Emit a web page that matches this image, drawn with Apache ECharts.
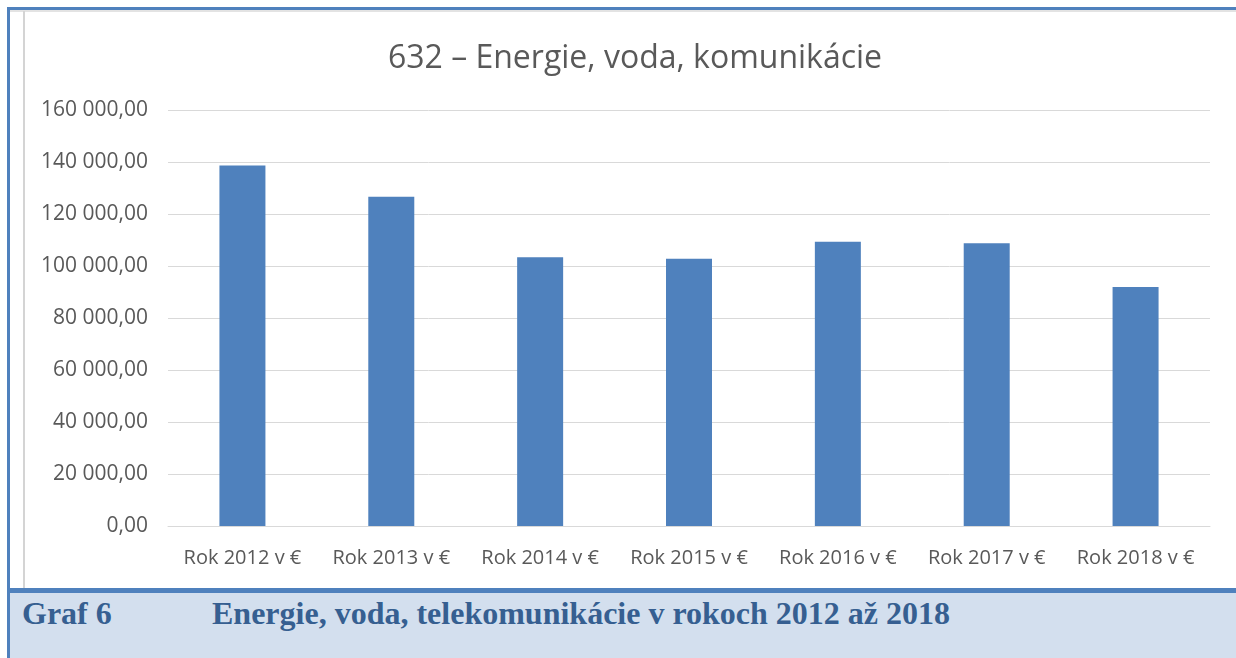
<!DOCTYPE html>
<html>
<head>
<meta charset="utf-8">
<script src="https://cdn.jsdelivr.net/npm/echarts@6/dist/echarts.min.js"></script>
<style>
  html, body { margin: 0; padding: 0; background: #fff; }
  #wrap { position: relative; width: 1236px; height: 658px; overflow: hidden; }
  .abs { position: absolute; }
  #chart { position: absolute; left: 0; top: 0; width: 1236px; height: 658px; }
  .cap { position: absolute; top: 594px; line-height: 38px; font-family: "Liberation Serif", "DejaVu Serif", serif;
         font-weight: bold; font-size: 32px; color: #365f91; white-space: nowrap; }
</style>
</head>
<body>
<div id="wrap">
  <!-- rámik a popis grafu -->
  <div class="abs" style="left:7px;top:7px;width:1229px;height:3px;background:#4f81bd"></div>
  <div class="abs" style="left:10px;top:10px;width:1226px;height:2px;background:#e3e3e3"></div>
  <div class="abs" style="left:7px;top:7px;width:3px;height:651px;background:#4f81bd"></div>
  <div class="abs" style="left:23px;top:11px;width:2px;height:577px;background:#d4d4d4"></div>
  <div class="abs" style="left:10px;top:588px;width:1226px;height:5px;background:#4f81bd"></div>
  <div class="abs" style="left:10px;top:593px;width:1226px;height:65px;background:#d3dfee"></div>
  <div class="cap" style="left:22px">Graf 6</div>
  <div class="cap" style="left:212px">Energie, voda, telekomunikácie v rokoch 2012 až 2018</div>
  <div id="chart"></div>
</div>
<script>
// údaje grafu
const title = '632 – Energie, voda, komunikácie';
const categories = ['Rok 2012 v €', 'Rok 2013 v €', 'Rok 2014 v €', 'Rok 2015 v €', 'Rok 2016 v €', 'Rok 2017 v €', 'Rok 2018 v €'];
const values = [138700, 126650, 103350, 102800, 109350, 108750, 91900];

// formát čísla: 160 000,00
function fmtNum(v) {
  const parts = Number(v).toFixed(2).split('.');
  const intPart = parts[0].replace(/\B(?=(\d{3})+(?!\d))/g, ' ');
  return intPart + ',' + parts[1];
}

const chart = echarts.init(document.getElementById('chart'), null, { renderer: 'canvas' });
const font = '"Open Sans", "Noto Sans", sans-serif';

chart.setOption({
  backgroundColor: 'transparent',
  animation: false,
  title: {
    text: title, left: 630, top: 38, textAlign: 'center',
    textStyle: { fontFamily: font, fontSize: 32, fontWeight: 'normal', color: '#595959' }
  },
  grid: { left: 168, top: 110, width: 1042, height: 416, containLabel: false },
  xAxis: {
    type: 'category', data: categories,
    axisLine: { lineStyle: { color: '#d9d9d9', width: 1 } },
    axisTick: { show: false },
    axisLabel: { color: '#595959', fontFamily: font, fontSize: 20, margin: 22, interval: 0 }
  },
  yAxis: {
    type: 'value', min: 0, max: 160000, interval: 20000,
    axisLine: { show: false }, axisTick: { show: false },
    splitLine: { lineStyle: { color: '#d9d9d9', width: 1 } },
    axisLabel: { color: '#595959', fontFamily: font, fontSize: 21, margin: 20, formatter: fmtNum }
  },
  series: [{
    type: 'bar', data: values, barWidth: 46,
    itemStyle: { color: '#4f81bd' }
  }]
});
</script>
</body>
</html>
